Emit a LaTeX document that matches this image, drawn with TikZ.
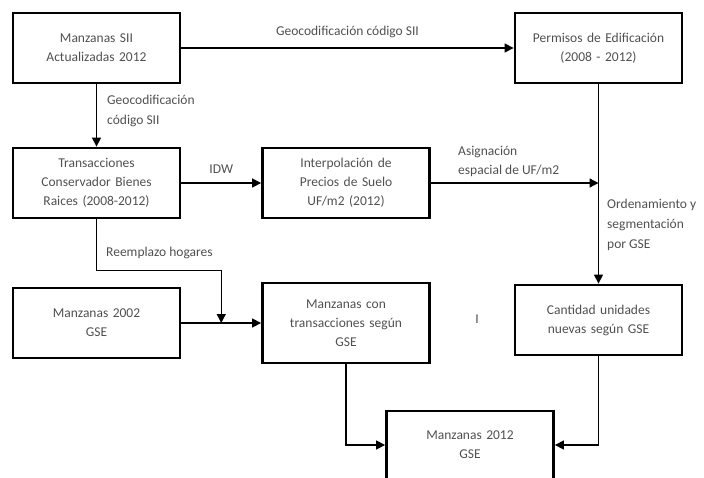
\documentclass[tikz,border=0pt]{standalone}
\usepackage{fontspec}
\setmainfont{Carlito}
\usetikzlibrary{arrows.meta,calc}
\definecolor{txtgray}{RGB}{80,80,80}
\tikzset{
  caja/.style={draw=black,line width=2.8pt,minimum width=167pt,minimum height=70pt,
    text width=160pt,align=center,text=txtgray,font=\fontsize{13.5}{19}\selectfont},
  flecha/.style={line width=1.3pt,-{Triangle[length=9pt,width=9pt]}},
  etiqueta/.style={text=txtgray,font=\fontsize{13.5}{19}\selectfont,inner sep=0pt}
}
\begin{document}
\begin{tikzpicture}[x=1pt,y=-1pt]
\useasboundingbox (0,0) rectangle (704,477);
\node[caja] (mzsii) at (96.5,48) {Manzanas SII\\Actualizadas 2012};
\node[caja] (permisos) at (598.5,48) {Permisos de Edificaci\'on\\(2008 - 2012)};
\node[caja] (cbr) at (96.5,183) {Transacciones\\Conservador Bienes\\Raices (2008-2012)};
\node[caja] (interp) at (346,183) {Interpolaci\'on de\\Precios de Suelo\\UF/m2 (2012)};
\node[caja] (cantidad) at (598.5,320) {Cantidad unidades\\nuevas seg\'un GSE};
\node[caja] (mz2002) at (96.5,323) {Manzanas 2002\\GSE};
\node[caja,minimum height=80pt] (mztrans) at (346,323) {Manzanas con\\transacciones seg\'un\\GSE};
\node[caja,minimum height=68pt] (mz2012) at (470,445) {Manzanas 2012\\GSE};
% connectors
\draw[flecha] (mzsii) -- node[etiqueta,above=10pt]{Geocodificaci\'on c\'odigo SII} (permisos);
\draw[flecha] (mzsii) -- (cbr);
\node[etiqueta,anchor=north west,align=left,font=\fontsize{13.5}{20}\selectfont] (geo) at (107,95) {Geocodificaci\'on\\c\'odigo SII};
\draw[flecha] (cbr) -- node[etiqueta,above=9pt]{IDW} (interp);
\draw[flecha] (permisos) -- (cantidad);
\path (permisos.south |- interp.east) coordinate (asig);
\draw[flecha] (interp) -- (asig);
\node[etiqueta,anchor=south west,align=left] (asiglab) at (458,177) {Asignaci\'on\\espacial de UF/m2};
\node[etiqueta,anchor=north west,align=left,font=\fontsize{13.5}{20}\selectfont] (orden) at (607,199) {Ordenamiento y\\segmentaci\'on\\por GSE};
\path ($(mz2002.east)!0.5!(mztrans.west)$) coordinate (cruce);
\path (cbr.south) ++(0,51) coordinate (codo);
\draw[flecha] (cbr.south) -- (codo) -| (cruce);
\node[etiqueta,anchor=south west] (reemp) at (106,259) {Reemplazo hogares};
\draw[flecha] (mz2002) -- (mztrans);
\draw[flecha] (mztrans.south) |- (mz2012.west);
\draw[flecha] (cantidad.south) |- (mz2012.east);
\node[etiqueta] (cursor) at (477,319) {I};
\end{tikzpicture}
\end{document}
